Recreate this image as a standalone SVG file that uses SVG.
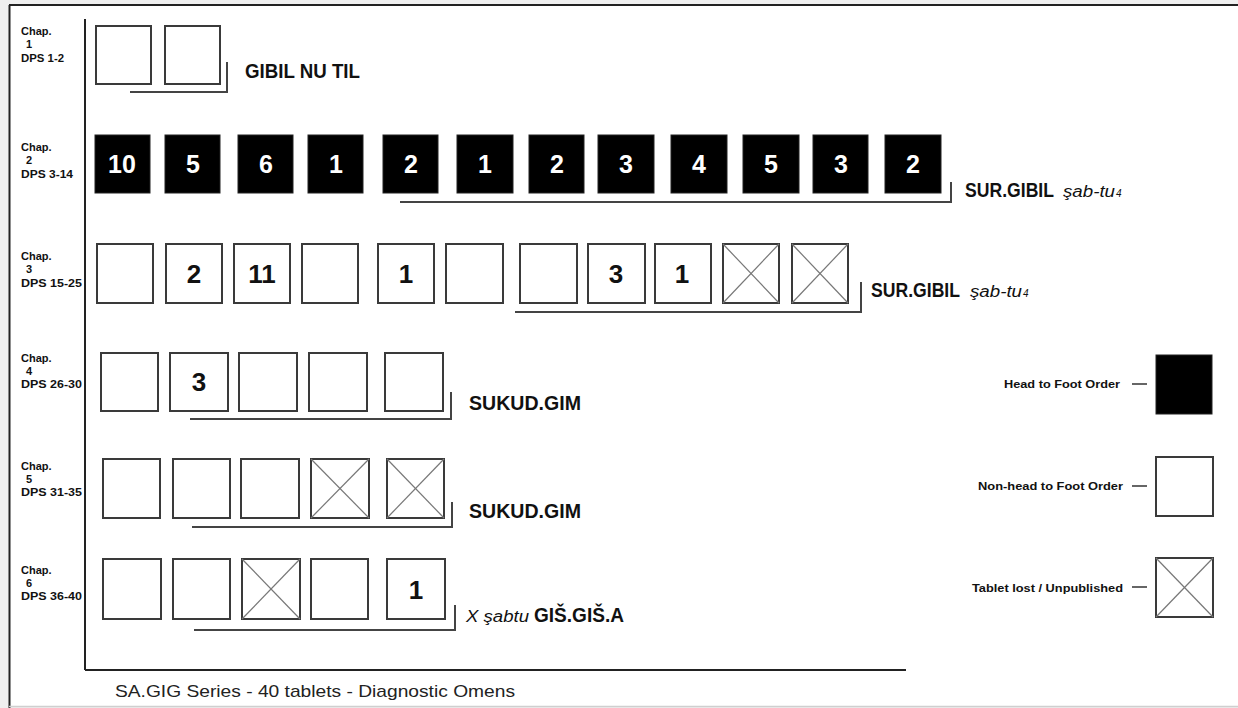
<svg xmlns="http://www.w3.org/2000/svg" width="1238" height="708" viewBox="0 0 1238 708">
<style>
.bg{fill:#efefef}
.page{fill:#fff}
.frame{fill:none;stroke:#222;stroke-width:2}
.axis{fill:none;stroke:#222;stroke-width:2}
.b{fill:#fff;stroke:#3a3a3a;stroke-width:2}
.k{fill:#000;stroke:#222;stroke-width:1}
.x{stroke:#777;stroke-width:1.2}
.br{fill:none;stroke:#444;stroke-width:2}
.dash{stroke:#333;stroke-width:1.5}
.lab{font-family:"Liberation Sans",Arial,sans-serif;font-weight:bold;font-size:11px;fill:#111}
.labn{font-family:"Liberation Sans",Arial,sans-serif;font-weight:bold;font-size:11px;fill:#111;text-anchor:middle}
.nw{font-family:"Liberation Sans",Arial,sans-serif;font-weight:bold;font-size:25px;fill:#fff;text-anchor:middle}
.nb{font-family:"Liberation Sans",Arial,sans-serif;font-weight:bold;font-size:26px;fill:#111;text-anchor:middle}
.t{font-family:"Liberation Sans",Arial,sans-serif;font-weight:bold;font-size:20px;fill:#111}
.it{font-family:"Liberation Sans",Arial,sans-serif;font-style:italic;font-size:16px;fill:#111}
.sub{font-family:"Liberation Sans",Arial,sans-serif;font-style:italic;font-size:10px;fill:#111}
.leg{font-family:"Liberation Sans",Arial,sans-serif;font-weight:bold;font-size:11px;fill:#111;text-anchor:end}
.foot{font-family:"Liberation Sans",Arial,sans-serif;font-size:17px;fill:#222}
</style>
<rect class="bg" x="0" y="0" width="1238" height="708"/>
<rect class="page" x="9" y="5" width="1240" height="701"/>
<line class="frame" x1="9" y1="5" x2="1238" y2="5"/>
<line class="frame" x1="9.5" y1="5" x2="9.5" y2="708"/>
<line x1="9" y1="706.5" x2="1238" y2="706.5" stroke="#cfcfcf" stroke-width="1.5"/>

<g id="axes">
<line class="axis" x1="85" y1="19" x2="85" y2="670"/>
<line class="axis" x1="85" y1="670" x2="906" y2="670"/>
</g>

<g id="connectors">
<polyline class="br" points="130,92 227,92 227,62"/>
<polyline class="br" points="400,202 951,202 951,182"/>
<polyline class="br" points="515,312 861,312 861,282"/>
<polyline class="br" points="190,419 451,419 451,392"/>
<polyline class="br" points="192,527 452,527 452,502"/>
<polyline class="br" points="194,630 455,630 455,605"/>
</g>

<g id="chap1">
<text class="lab" x="21" y="35">Chap.</text>
<text class="labn" x="29" y="48">1</text>
<text class="lab" x="21" y="62" textLength="43" lengthAdjust="spacingAndGlyphs">DPS 1-2</text>
<rect class="b" x="96" y="26" width="55" height="58"/>
<rect class="b" x="165" y="26" width="55" height="58"/>
<text class="t" x="245" y="78" textLength="115" lengthAdjust="spacingAndGlyphs">GIBIL NU TIL</text>
</g>

<g id="chap2">
<text class="lab" x="21" y="151">Chap.</text>
<text class="labn" x="29" y="164">2</text>
<text class="lab" x="21" y="178" textLength="52" lengthAdjust="spacingAndGlyphs">DPS 3-14</text>
<rect class="k" x="95" y="135" width="55" height="58"/><text class="nw" x="122" y="173">10</text>
<rect class="k" x="165" y="135" width="55" height="58"/><text class="nw" x="193" y="173">5</text>
<rect class="k" x="238" y="135" width="55" height="58"/><text class="nw" x="266" y="173">6</text>
<rect class="k" x="308" y="135" width="55" height="58"/><text class="nw" x="336" y="173">1</text>
<rect class="k" x="383" y="135" width="55" height="58"/><text class="nw" x="411" y="173">2</text>
<rect class="k" x="457" y="135" width="56" height="58"/><text class="nw" x="485" y="173">1</text>
<rect class="k" x="529" y="135" width="55" height="58"/><text class="nw" x="557" y="173">2</text>
<rect class="k" x="598" y="135" width="56" height="58"/><text class="nw" x="626" y="173">3</text>
<rect class="k" x="671" y="135" width="56" height="58"/><text class="nw" x="699" y="173">4</text>
<rect class="k" x="743" y="135" width="56" height="58"/><text class="nw" x="771" y="173">5</text>
<rect class="k" x="813" y="135" width="55" height="58"/><text class="nw" x="841" y="173">3</text>
<rect class="k" x="885" y="135" width="56" height="58"/><text class="nw" x="913" y="173">2</text>
<text class="t" x="965" y="197" textLength="89" lengthAdjust="spacingAndGlyphs">SUR.GIBIL</text>
<text class="it" x="1063" y="197" textLength="52" lengthAdjust="spacingAndGlyphs">şab-tu</text>
<text class="sub" x="1116" y="197">4</text>
</g>

<g id="chap3">
<text class="lab" x="21" y="260">Chap.</text>
<text class="labn" x="29" y="273">3</text>
<text class="lab" x="21" y="287" textLength="61" lengthAdjust="spacingAndGlyphs">DPS 15-25</text>
<rect class="b" x="97" y="244" width="56" height="59"/>
<rect class="b" x="166" y="244" width="56" height="59"/><text class="nb" x="194" y="283">2</text>
<rect class="b" x="234" y="244" width="56" height="59"/><text class="nb" x="262" y="283">11</text>
<rect class="b" x="302" y="244" width="56" height="59"/>
<rect class="b" x="378" y="244" width="56" height="59"/><text class="nb" x="406" y="283">1</text>
<rect class="b" x="446" y="244" width="57" height="59"/>
<rect class="b" x="520" y="244" width="57" height="59"/>
<rect class="b" x="588" y="244" width="57" height="59"/><text class="nb" x="616" y="283">3</text>
<rect class="b" x="655" y="244" width="56" height="59"/><text class="nb" x="682" y="283">1</text>
<rect class="b" x="723" y="244" width="56" height="59"/><line class="x" x1="723" y1="244" x2="779" y2="303"/><line class="x" x1="779" y1="244" x2="723" y2="303"/>
<rect class="b" x="792" y="244" width="56" height="59"/><line class="x" x1="792" y1="244" x2="848" y2="303"/><line class="x" x1="848" y1="244" x2="792" y2="303"/>
<text class="t" x="871" y="297" textLength="89" lengthAdjust="spacingAndGlyphs">SUR.GIBIL</text>
<text class="it" x="970" y="297" textLength="52" lengthAdjust="spacingAndGlyphs">şab-tu</text>
<text class="sub" x="1023" y="297">4</text>
</g>

<g id="chap4">
<text class="lab" x="21" y="362">Chap.</text>
<text class="labn" x="29" y="375">4</text>
<text class="lab" x="21" y="388" textLength="61" lengthAdjust="spacingAndGlyphs">DPS 26-30</text>
<rect class="b" x="101" y="353" width="57" height="58"/>
<rect class="b" x="170" y="353" width="58" height="58"/><text class="nb" x="199" y="391">3</text>
<rect class="b" x="239" y="353" width="58" height="58"/>
<rect class="b" x="309" y="353" width="58" height="58"/>
<rect class="b" x="385" y="353" width="58" height="58"/>
<text class="t" x="469" y="410" textLength="112" lengthAdjust="spacingAndGlyphs">SUKUD.GIM</text>
</g>

<g id="chap5">
<text class="lab" x="21" y="470">Chap.</text>
<text class="labn" x="29" y="483">5</text>
<text class="lab" x="21" y="496" textLength="61" lengthAdjust="spacingAndGlyphs">DPS 31-35</text>
<rect class="b" x="103" y="459" width="57" height="59"/>
<rect class="b" x="173" y="459" width="57" height="59"/>
<rect class="b" x="241" y="459" width="58" height="59"/>
<rect class="b" x="311" y="459" width="58" height="59"/><line class="x" x1="311" y1="459" x2="369" y2="518"/><line class="x" x1="369" y1="459" x2="311" y2="518"/>
<rect class="b" x="387" y="459" width="57" height="59"/><line class="x" x1="387" y1="459" x2="444" y2="518"/><line class="x" x1="444" y1="459" x2="387" y2="518"/>
<text class="t" x="469" y="518" textLength="112" lengthAdjust="spacingAndGlyphs">SUKUD.GIM</text>
</g>

<g id="chap6">
<text class="lab" x="21" y="574">Chap.</text>
<text class="labn" x="29" y="587">6</text>
<text class="lab" x="21" y="600" textLength="61" lengthAdjust="spacingAndGlyphs">DPS 36-40</text>
<rect class="b" x="103" y="559" width="58" height="60"/>
<rect class="b" x="173" y="559" width="57" height="60"/>
<rect class="b" x="242" y="559" width="58" height="60"/><line class="x" x1="242" y1="559" x2="300" y2="619"/><line class="x" x1="300" y1="559" x2="242" y2="619"/>
<rect class="b" x="311" y="559" width="57" height="60"/>
<rect class="b" x="387" y="559" width="58" height="60"/><text class="nb" x="416" y="599">1</text>
<text class="it" x="466" y="622" font-size="17" textLength="63" lengthAdjust="spacingAndGlyphs">X şabtu</text>
<text class="t" x="534" y="622" textLength="90" lengthAdjust="spacingAndGlyphs">GIŠ.GIŠ.A</text>
</g>

<g id="legend-head">
<text class="leg" x="1120" y="388" textLength="116" lengthAdjust="spacingAndGlyphs">Head to Foot Order</text>
<line class="dash" x1="1132" y1="384" x2="1147" y2="384"/>
<rect class="k" x="1156" y="355" width="56" height="59"/>
</g>
<g id="legend-nonhead">
<text class="leg" x="1123" y="490" textLength="145" lengthAdjust="spacingAndGlyphs">Non-head to Foot Order</text>
<line class="dash" x1="1132" y1="486" x2="1147" y2="486"/>
<rect class="b" x="1156" y="457" width="57" height="59"/>
</g>
<g id="legend-lost">
<text class="leg" x="1123" y="592" textLength="151" lengthAdjust="spacingAndGlyphs">Tablet lost / Unpublished</text>
<line class="dash" x1="1132" y1="587" x2="1147" y2="587"/>
<rect class="b" x="1156" y="558" width="57" height="59"/><line class="x" x1="1156" y1="558" x2="1213" y2="617"/><line class="x" x1="1213" y1="558" x2="1156" y2="617"/>
</g>

<g id="footer">
<text class="foot" x="115" y="697" textLength="400" lengthAdjust="spacingAndGlyphs">SA.GIG Series - 40 tablets - Diagnostic Omens</text>
</g>
</svg>
